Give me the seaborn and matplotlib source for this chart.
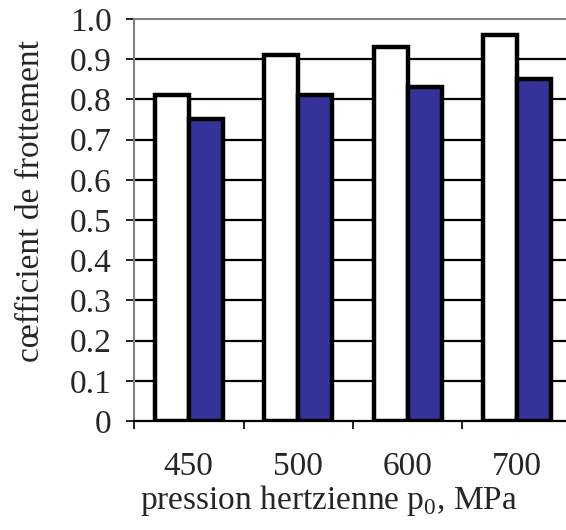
import pandas as pd
import matplotlib.pyplot as plt
import seaborn as sns
from matplotlib.ticker import FixedLocator

pressions = ['450', '500', '600', '700']
serie_blanche = [0.81, 0.91, 0.93, 0.96]
serie_bleue = [0.75, 0.81, 0.83, 0.85]
y_ticks = [0.0, 0.1, 0.2, 0.3, 0.4, 0.5, 0.6, 0.7, 0.8, 0.9, 1.0]
y_labels = ['0', '0.1', '0.2', '0.3', '0.4', '0.5', '0.6', '0.7', '0.8', '0.9', '1.0']

df = pd.DataFrame({
    'pression': pressions * 2,
    'mu': serie_blanche + serie_bleue,
    'serie': ['a'] * 4 + ['b'] * 4,
})

sns.set_style('white')
plt.rcParams['font.family'] = ['Liberation Serif', 'DejaVu Serif']
plt.rcParams['mathtext.fontset'] = 'custom'
plt.rcParams['mathtext.rm'] = 'Liberation Serif'

fig = plt.figure(figsize=(5.66, 5.30), dpi=100)
ax = fig.add_axes([134 / 566, 109 / 530, 438 / 566, 402 / 530])

sns.barplot(data=df, x='pression', y='mu', hue='serie',
            palette={'a': 'white', 'b': '#333399'}, width=0.62,
            edgecolor='black', linewidth=3.2, saturation=1,
            legend=False, ax=ax, zorder=3)

ax.set_xlim(-0.5, 3.5)
ax.set_ylim(0, 1.0)
ax.set_yticks(y_ticks)
ax.set_yticklabels(y_labels)
for y in y_ticks[1:-1]:
    ax.axhline(y, color='black', lw=1.6, zorder=1)

ax.tick_params(axis='x', which='major', length=0, pad=22, labelsize=24)
ax.xaxis.set_minor_locator(FixedLocator([-0.5, 0.5, 1.5, 2.5]))
ax.tick_params(axis='x', which='minor', bottom=True, length=6, width=1.2, color='black')
ax.tick_params(axis='y', left=True, length=6, width=1.2, color='black', labelsize=24, pad=10)

for side in ['left', 'top']:
    ax.spines[side].set_color('#808080')
    ax.spines[side].set_linewidth(1.5)
ax.spines['bottom'].set_color('black')
ax.spines['bottom'].set_linewidth(1.6)

ax.set_xlabel('pression hertzienne p$_\\mathrm{0}$, MPa', fontsize=24)
ax.xaxis.set_label_coords((329 - 134) / 438, -0.155)
ax.set_ylabel('cœfficient de frottement', fontsize=24)
ax.yaxis.set_label_coords((46 - 134) / 438, (421 - 201) / 402)

fig.savefig('out.png', dpi=100)
